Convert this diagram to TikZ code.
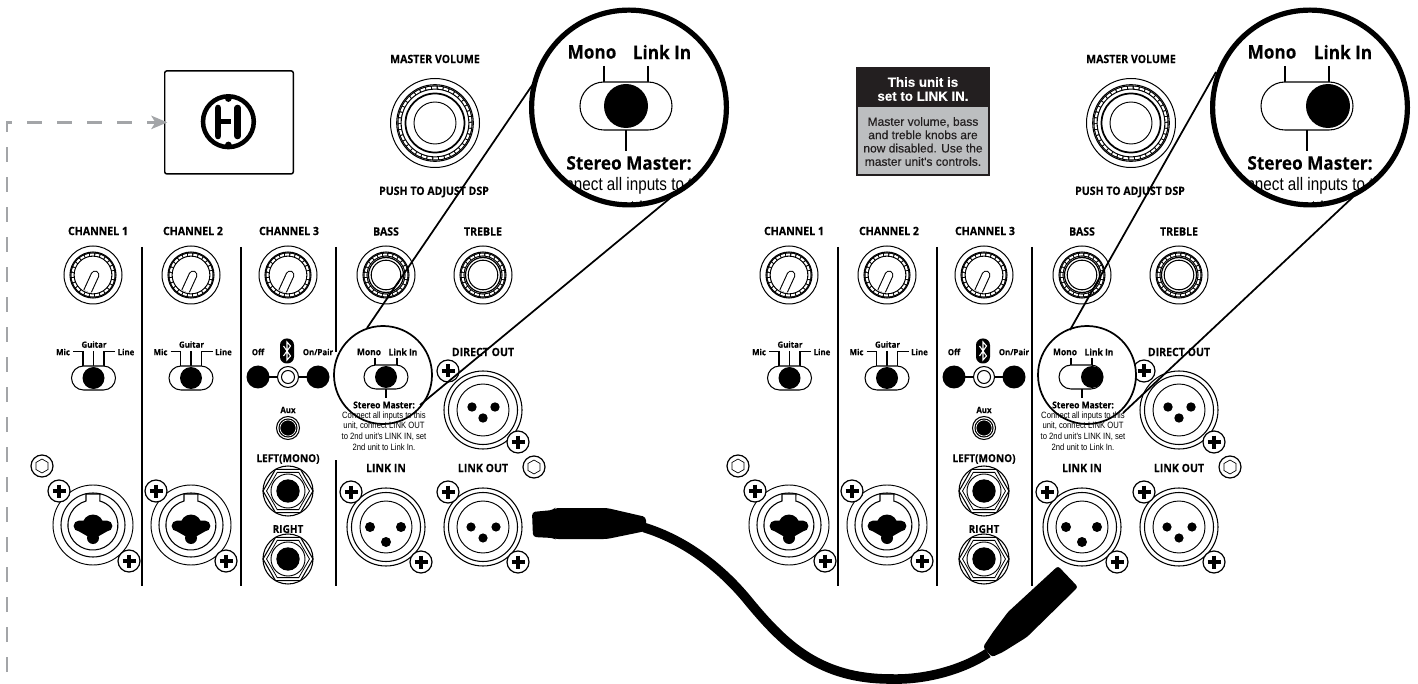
\documentclass[tikz,border=0pt]{standalone}
\usepackage{fontspec}
\usetikzlibrary{arrows.meta}
\newfontfamily\labfam[FakeStretch=.92,FakeBold=.2]{Open Sans Bold}
\newfontfamily\arnfam[FakeStretch=.84]{Liberation Sans}
\newfontfamily\hvfam[FakeBold=.25]{Liberation Sans}
\definecolor{dashgray}{HTML}{A3A5A8}
\definecolor{notehead}{HTML}{231F20}
\definecolor{notebody}{HTML}{BCBEC0}
\tikzset{
 lab/.style={inner sep=0,font=\labfam\fontsize{8.6}{10}\selectfont},
 labsm/.style={inner sep=0,font=\labfam\fontsize{6.4}{7}\selectfont},
 labmono/.style={inner sep=0,font=\labfam\fontsize{6.9}{8}\selectfont},
 labbig/.style={inner sep=0,font=\labfam\fontsize{14}{16}\selectfont},
 labmed/.style={inner sep=0,font=\labfam\fontsize{8.2}{9}\selectfont},
 fine/.style={inner sep=0,font=\arnfam\fontsize{6.85}{8}\selectfont},
 finebig/.style={inner sep=0,font=\arnfam\fontsize{13.6}{17}\selectfont},
 thinln/.style={line width=.75pt,black},
 wire/.style={line width=1.1pt,black},
 zoomln/.style={line width=1.3pt,black},
}
\newcommand\screw[2]{\draw[fill=white,line width=.9pt](#1,#2) circle[radius=11];
 \draw[line width=2.9pt](#1-6.5,#2)--(#1+6.5,#2) (#1,#2-6.5)--(#1,#2+6.5);}
\newcommand\nut[2]{\begin{scope}[shift={(#1,#2)}]\draw[line width=.9pt,fill=white] (0,0) circle[radius=11];
 \draw[line width=.5pt] (30:7)--(90:7)--(150:7)--(210:7)--(270:7)--(330:7)--cycle;\end{scope}}
\newcommand\knob[2]{\begin{scope}[shift={(#1,#2)}]
 \draw[thinln] (0,0) circle[radius=29];
 \draw[line width=.8pt] (0,0) circle[radius=23];
 \draw[line width=3.2pt] (0,0) circle[radius=20.5];
 \draw[white,line width=1.5pt,dash pattern=on 3pt off .9pt] (0,0) circle[radius=20.5];
 \begin{scope}\clip (0,0) circle[radius=17.5];
 \draw[line width=6.6pt,line cap=round] (2,0)--(-9,24);
 \draw[white,line width=5pt,line cap=round] (2,0)--(-9,24);\end{scope}
\end{scope}}
\newcommand\bigknob[2]{\begin{scope}[shift={(#1,#2)}]
 \draw[thinln] (0,0) circle[radius=29];
 \draw[line width=.8pt] (0,0) circle[radius=23];
 \draw[line width=3pt] (0,0) circle[radius=20.5];
 \draw[white,line width=1.4pt,dash pattern=on 3pt off .9pt] (0,0) circle[radius=20.5];
 \draw[line width=.9pt] (0,0) circle[radius=17.5];
 \draw[line width=.8pt] (0,0) circle[radius=14.8];
\end{scope}}
\newcommand\sw[6]{% cx cy hw hh knobx r
 \pgfmathsetmacro\rr{#4*0.75}
 \draw[line width=.8pt,fill=white,rounded corners=\rr pt] (#1-#3,#2-#4) rectangle (#1+#3,#2+#4);
 \fill (#5,#2) circle[radius=#6];}
\newcommand\combo[2]{\begin{scope}[shift={(#1,#2)}]
 \draw[line width=.7pt,fill=white] (0,0) circle[radius=40];
 \draw[line width=.8pt] (0,0) circle[radius=32];
 \draw[line width=.8pt,fill=white] (-7,-24) arc (254:-74:25) -- (7,-31) -- (-7,-31)--cycle;
 \fill (-14,1) circle[radius=5.4] (14,1) circle[radius=5.4] (0,0) circle[radius=10.5] (0,13) circle[radius=6] (-14,-4.4)--(14,-4.4)--(14,6.4)--(6,11)--(-6,11)--(-14,6.4)--cycle;
\end{scope}}
\newcommand\xlr[8]{\begin{scope}[shift={(#1,#2)}]
 \draw[line width=.8pt,fill=white] (0,0) circle[radius=39];
 \draw[line width=.8pt] (0,0) circle[radius=34.5];
 \draw[line width=.7pt] (0,0) circle[radius=26];
 \fill (#3,#4) circle[radius=#8] (#5,#4) circle[radius=#8] (#6,#7) circle[radius=#8];
\end{scope}}
\newcommand\jack[2]{\begin{scope}[shift={(#1,#2)}]
 \draw[line width=.8pt,fill=white] (0,0) circle[radius=25];
 \draw[line width=.8pt] (0:25)--(60:25)--(120:25)--(180:25)--(240:25)--(300:25)--cycle;
 \draw[line width=.6pt] (0:21.5)--(60:21.5)--(120:21.5)--(180:21.5)--(240:21.5)--(300:21.5)--cycle;
 \draw[line width=.7pt] (0,0) circle[radius=17];
 \fill (0,0) circle[radius=11.7];
\end{scope}}
\newcommand\panel[1]{%
 \node[lab] (#1ch1) at (98,231) {CHANNEL 1};
 \node[lab] (#1ch2) at (193,231) {CHANNEL 2};
 \node[lab] (#1ch3) at (289,231) {CHANNEL 3};
 \node[lab] (#1bass) at (386,231.5) {BASS};
 \node[lab] (#1treb) at (483,231.5) {TREBLE};
 \node[lab] (#1mv) at (435,59) {MASTER VOLUME};
 \node[lab] (#1dsp) at (434,192) {PUSH TO ADJUST DSP};
 \begin{scope}[shift={(435,123)}]
 \draw[thinln] (0,0) circle[radius=44.5];
 \draw[line width=.8pt] (0,0) circle[radius=38.3];
 \draw[line width=3.2pt] (0,0) circle[radius=35.5];
 \draw[white,line width=1.5pt,dash pattern=on 3.5pt off .9pt] (0,0) circle[radius=35.5];
 \draw[line width=1.3pt] (0,0) circle[radius=29.5];
 \draw[line width=.7pt] (0,0) circle[radius=21];
 \end{scope}
 \knob{93}{275}\knob{191}{275}\knob{288}{275}
 \bigknob{386}{275}\bigknob{483}{275}
 \draw[wire] (142,247)--(142,586) (241,247)--(241,586);
 \foreach \d/\n in {0/a,97.5/b}{
 \node[labsm] (#1mic\n) at (63+\d,352) {Mic};
 \node[labsm] (#1gtr\n) at (94+\d,344.5) {Guitar};
 \node[labsm] (#1lin\n) at (126+\d,352) {Line};
 \draw[wire,line width=.9pt] (73+\d,351.5)-|(83+\d,366) (93.5+\d,351)--(93.5+\d,366) (115+\d,351.5)-|(104+\d,366);
 \sw{93.5+\d}{378}{22}{12}{93.5+\d}{11}
 }
 \node[labsm] (#1off) at (258,352) {Off};
 \node[labsm] (#1on) at (318,352) {On/Pair};
 \fill[rounded corners=5pt] (280,338.5) rectangle (294,363.5);
 \draw[white,line width=.8pt] (283.5,346)--(290.5,356)--(287,360)--(287,342)--(290.5,346)--(283.5,356);
 \fill (258,377) circle[radius=11.5] (318,377) circle[radius=11.5];
 \draw[line width=.9pt] (258,377)--(318,377);
 \draw[line width=.8pt,fill=white] (288,377) circle[radius=10.5];
 \draw[line width=.8pt] (288,377) circle[radius=6.5];
 \node[labsm] (#1aux) at (288,410) {Aux};
 \draw[line width=.8pt] (288,428) circle[radius=11.5];
 \draw[line width=.8pt,fill] (288,428) circle[radius=9];
 \draw[white,line width=.5pt] (288,428) circle[radius=8];
 \node[labmed] (#1lm) at (288,459) {LEFT(MONO)};
 \node[labmed] (#1rt) at (288,529) {RIGHT};
 \jack{288}{491}\jack{288}{559}
 \combo{93}{525}\combo{191}{525}
 \nut{42}{466}
 \screw{59}{491}\screw{129}{561}\screw{156}{491}\screw{226}{561}
 \node[lab] (#1do) at (483,352) {DIRECT OUT};
 \node[lab] (#1li) at (386,468) {LINK IN};
 \node[lab] (#1lo) at (483,468) {LINK OUT};
 \xlr{483}{410}{-11}{-3}{12}{0}{8}{4.7}
 \xlr{386}{527}{-16}{0}{15}{0}{15}{5}
 \xlr{483}{527}{-12}{0}{13}{0}{11}{4.6}
 \screw{448}{371}\screw{518}{442}\screw{351}{492}\screw{421}{562}\screw{448}{492}\screw{518}{562}
 \nut{534}{467}
 \draw[wire] (336,460)--(336,586);
}
\begin{document}
\begin{tikzpicture}[x=.75pt,y=-.75pt]
\useasboundingbox (0,0) rectangle (1418,684);
% ---- remote box
\node[draw,line width=1.1pt,rounded corners=1.5pt,inner sep=0,minimum width=96.4pt,minimum height=77.2pt] (hbox) at (229,122.4) {};
\coordinate (dashstart) at (7,684);
\draw[dashgray,line width=1.9pt,dash pattern=on 11.25pt off 11.25pt,dash phase=13.5pt,
 -{Stealth[length=12pt,width=10pt,inset=3pt]},shorten >=-2.5pt] (dashstart) |- (hbox.west);
\draw[line width=3.4pt] (228.4,121.7) circle[radius=25.4];
\fill (228.4,98.5) circle[radius=3.4] (228.4,145) circle[radius=3.4];
\draw[line width=5pt,line cap=round] (218,108)--(218,136) (237.8,108)--(237.8,136);
\draw[line width=3.7pt] (218,121.7)--(231,121.7);
% ---- panels
\panel{L}
\draw[wire] (336,247)--(336,352);
\begin{scope}[shift={(696,0)}]
\panel{R}
\draw[wire] (336,247)--(336,460);
\end{scope}
% ---- notice
\fill[notebody] (857,68) rectangle (989,175);
\fill[notehead] (857,68) rectangle (989,107);
\draw[line width=.8pt,notehead] (857,68) rectangle (989,175);
\node[inner sep=0,white,align=center,font=\hvfam\bfseries\fontsize{10}{10.5}\selectfont] (nhead) at (923,89) {This unit is\\set to LINK IN.};
\node[inner sep=0,notehead,align=center,font=\hvfam\fontsize{9}{10}\selectfont] (nbody) at (923,141.5) {Master volume, bass\\and treble knobs are\\now disabled. Use the\\master unit's controls.};
% ---- left small magnifier
\coordinate (la1) at (367,328);\coordinate (la2) at (533,84);
\coordinate (lb1) at (420,405);\coordinate (lb2) at (680,190);
\draw[zoomln,fill=white] (383,375) circle[radius=49];
\node[labmono] (Lmono) at (369,352) {Mono};
\node[labmono] (Llink) at (403,352) {Link In};
\draw[wire,line width=.9pt] (375,358)--(375,366) (397,358)--(397,366) (386,388)--(386,398);
\sw{386}{377}{22}{12}{386}{11}
\node[labmono] (Lsm) at (384,405) {Stereo Master:};
\node[fine,align=center] (Ltxt) at (384,431) {Connect all inputs to this\\unit, connect LINK OUT\\to 2nd unit's LINK IN, set\\2nd unit to Link In.};
\draw[zoomln] (la1)--(la2) (lb1)--(lb2);
% ---- left big magnifier
\draw[line width=3.9pt,fill=white] (629,107.5) circle[radius=97.4];
\begin{scope}\clip (629,107.5) circle[radius=96];
\node[finebig,align=center] (Lbig) at (629,196.5) {Connect all inputs to this\\unit, connect LINK OUT};
\end{scope}
\node[labbig] (LbMono) at (592,52) {Mono};
\node[labbig] (LbLink) at (662,52) {Link In};
\draw[line width=1.5pt] (604,66)--(604,82) (648,66)--(648,82) (626,130)--(626,151);
\sw{626}{106}{46}{24}{626}{22}
\node[labbig] (LbSm) at (629,163) {Stereo Master:};
% ---- right small magnifier
\coordinate (ra1) at (1070,330);\coordinate (ra2) at (1216,72);
\coordinate (rb1) at (1123,413);\coordinate (rb2) at (1353,197);
\draw[zoomln,fill=white] (1087,375) circle[radius=49];
\node[labmono] (Rmono) at (1065,352) {Mono};
\node[labmono] (Rlink) at (1099,352) {Link In};
\draw[wire,line width=.9pt] (1071,358)--(1071,366) (1092,358)--(1092,366) (1082,388)--(1082,398);
\sw{1081}{377}{22}{12}{1092}{11}
\node[labmono] (Rsm) at (1083,405) {Stereo Master:};
\node[fine,align=center] (Rtxt) at (1083,431) {Connect all inputs to this\\unit, connect LINK OUT\\to 2nd unit's LINK IN, set\\2nd unit to Link In.};
\draw[zoomln] (ra1)--(ra2) (rb1)--(rb2);
% ---- right big magnifier
\draw[line width=3.9pt,fill=white] (1310,107.5) circle[radius=97.4];
\begin{scope}\clip (1310,107.5) circle[radius=96];
\node[finebig,align=center] (Rbig) at (1310,196.5) {Connect all inputs to this\\unit, connect LINK OUT};
\end{scope}
\node[labbig] (RbMono) at (1272,52) {Mono};
\node[labbig] (RbLink) at (1343,52) {Link In};
\draw[line width=1.5pt] (1285,66)--(1285,82) (1329,66)--(1329,82) (1307,130)--(1307,151);
\sw{1307}{106}{46}{24}{1328}{22}
\node[labbig] (RbSm) at (1310,163) {Stereo Master:};
% ---- cable
\coordinate (c1) at (644,527.5);\coordinate (c2) at (988,653);
\fill[rounded corners=2.5pt] (532,512)--(553,510)--(555,508)--(607,508)--(646,517)--(646,531)--(607,539)--(555,539)--(553,538)--(533,537)--cycle;
\fill[rounded corners=2pt] (983,647)--(993,632)--(1008,612)--(1058,566)--(1078,587)--(1027,637)--(1003,652)--(992,657)--cycle;
\draw[line width=7.2pt] (c1) .. controls (685,540) and (722,568) .. (750,603) .. controls (785,645) and (820,679) .. (891,679) .. controls (925,680) and (962,670) .. (c2);
\end{tikzpicture}
\end{document}
